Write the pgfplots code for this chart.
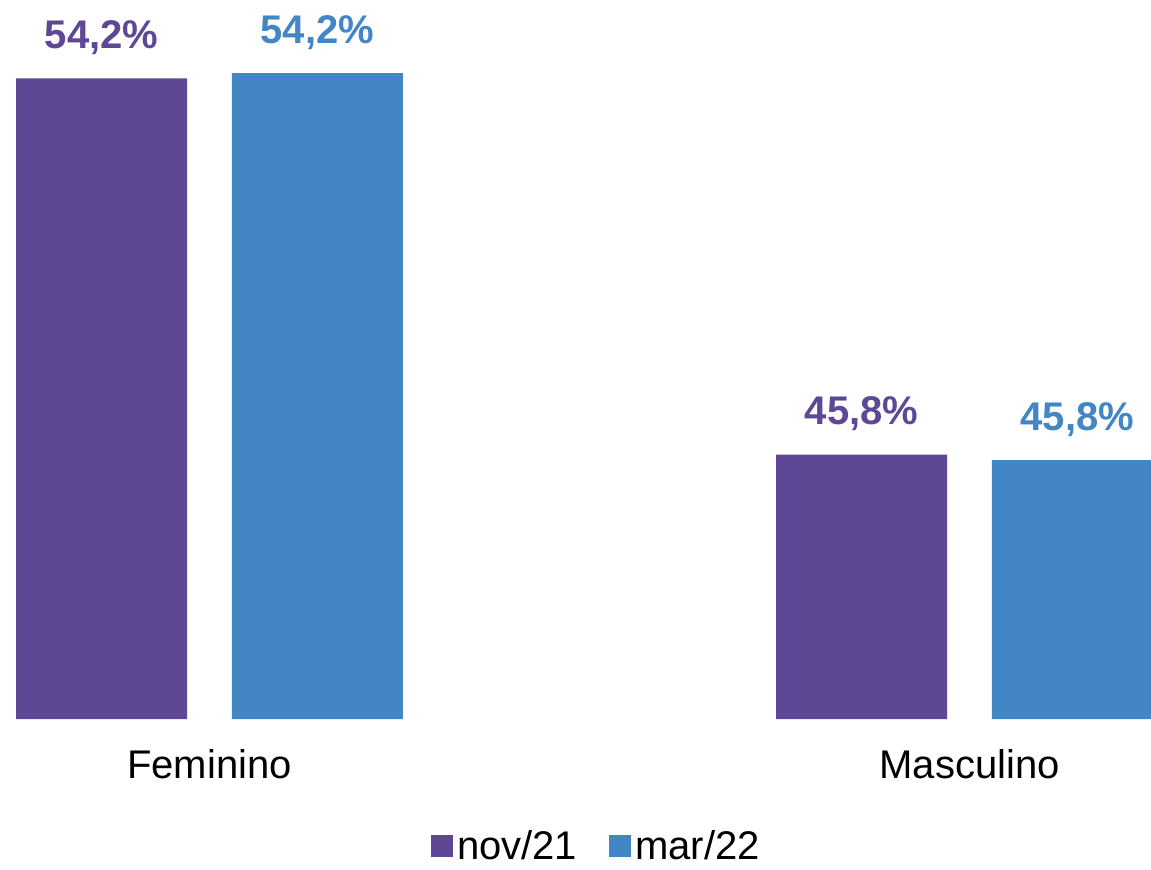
\documentclass[border=0pt]{standalone}
\usepackage{pgfplots}
\pgfplotsset{compat=1.18}
\usepackage{fontspec}
\setmainfont{Liberation Sans}
\definecolor{cpurple}{RGB}{94,72,150}
\definecolor{cblue}{RGB}{67,134,197}
\begin{document}
\begin{tikzpicture}
\useasboundingbox (0,-75pt) rectangle (575.5pt,359.5pt);
\begin{axis}[
  at={(0,0)}, anchor=south west,
  scale only axis, width=575.5pt, height=359.5pt,
  ymin=39.9, ymax=55.95,
  xmin=-0.2757, xmax=1.2388,
  axis line style={draw=none},
  major tick length=0pt,
  clip=false,
  ybar, bar width=0.225, bar shift=0pt,
  xtick={0,1}, xticklabels={Feminino,Masculino},
  xticklabel style={anchor=base, yshift=-29.5pt, font=\fontsize{20}{24}\selectfont},
  ytick=\empty,
  point meta=explicit symbolic,
  nodes near coords,
  nodes near coords style={anchor=base, yshift=15pt, font=\fontsize{20}{24}\selectfont\bfseries},
  legend columns=2,
  legend style={draw=none, fill=none, at={(0.519,0)}, anchor=north, yshift=-52.5pt,
    inner sep=1pt,
    font=\fontsize{20}{24}\selectfont, /tikz/every even column/.append style={column sep=14pt}},
  legend image code/.code={\fill[#1] (0pt,-5.5pt) rectangle (11pt,5.5pt);},
]
\addplot[fill=cpurple, draw=none, nodes near coords style={text=cpurple}] coordinates {(-0.142,54.2) [54,2\%] (0.858,45.8) [45,8\%]};
\addlegendentry{nov/21}
\addplot[fill=cblue, draw=none, nodes near coords style={text=cblue}] coordinates {(0.142,54.32) [54,2\%] (1.142,45.68) [45,8\%]};
\addlegendentry{mar/22}
\end{axis}
\end{tikzpicture}
\end{document}
